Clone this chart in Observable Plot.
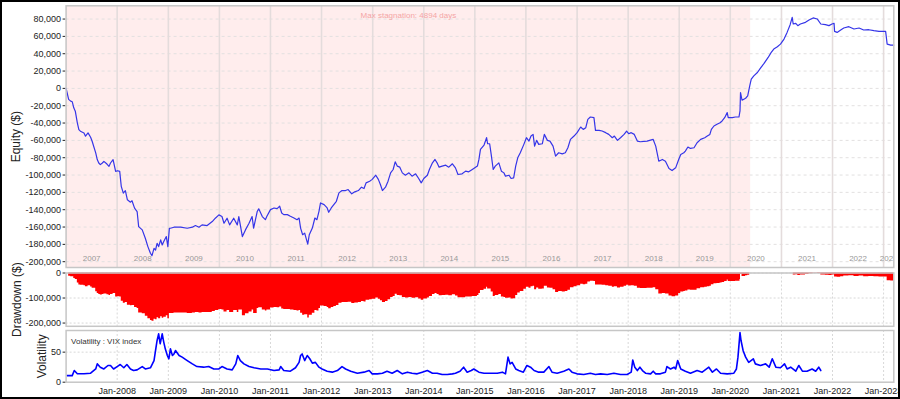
<!DOCTYPE html>
<html><head><meta charset="utf-8">
<script src="https://cdn.jsdelivr.net/npm/d3@7"></script>
<script src="https://cdn.jsdelivr.net/npm/@observablehq/plot@0.6"></script>
<style>
html,body{margin:0;padding:0;background:#fff;}
#chart{position:relative;width:900px;height:399px;overflow:hidden;background:#fff;}
#chart svg{position:absolute;left:0;top:0;}
#border{position:absolute;left:0;top:0;width:900px;height:399px;box-sizing:border-box;border:2px solid #000;pointer-events:none;z-index:5;}
</style></head><body>
<div id="chart"><div id="border"></div></div>
<script>
// ---------- data ----------
const equityYears = [2007.00,2007.05,2007.09,2007.12,2007.15,2007.18,2007.22,2007.25,2007.28,2007.35,2007.38,2007.43,2007.48,2007.51,2007.58,2007.61,2007.64,2007.67,2007.71,2007.74,2007.80,2007.84,2007.87,2007.92,2007.97,
2008.01,2008.05,2008.08,2008.12,2008.16,2008.20,2008.26,2008.29,2008.34,2008.39,2008.42,2008.49,2008.55,2008.60,2008.65,2008.68,2008.72,2008.75,2008.78,2008.81,2008.85,2008.88,2008.91,2008.96,2008.99,
2009.02,2009.04,2009.11,2009.24,2009.37,2009.47,2009.53,2009.60,2009.66,2009.76,2009.86,2009.92,2009.99,
2010.05,2010.09,2010.15,2010.20,2010.28,2010.35,2010.38,2010.45,2010.51,2010.58,2010.64,2010.67,2010.74,2010.77,2010.84,2010.90,2010.93,
2011.00,2011.07,2011.13,2011.18,2011.22,2011.26,2011.33,2011.39,2011.46,2011.52,2011.56,2011.59,2011.63,2011.67,2011.73,2011.76,2011.82,2011.87,2011.91,2011.95,2011.98,
2012.05,2012.11,2012.14,2012.19,2012.24,2012.29,2012.34,2012.40,2012.47,2012.52,2012.59,2012.65,2012.72,2012.78,2012.83,2012.87,2012.94,2012.99,
2013.06,2013.11,2013.15,2013.19,2013.25,2013.30,2013.35,2013.40,2013.44,2013.48,2013.53,2013.58,2013.64,2013.71,2013.77,2013.84,2013.90,2013.95,
2014.00,2014.07,2014.11,2014.17,2014.22,2014.26,2014.30,2014.36,2014.43,2014.49,2014.56,2014.62,2014.67,2014.75,2014.82,2014.88,2014.95,
2015.05,2015.08,2015.11,2015.18,2015.23,2015.25,2015.29,2015.32,2015.36,2015.40,2015.47,2015.52,2015.57,2015.60,2015.67,2015.71,2015.76,2015.80,2015.84,2015.89,2015.96,
2016.01,2016.06,2016.10,2016.14,2016.17,2016.21,2016.25,2016.32,2016.36,2016.42,2016.47,2016.53,2016.58,2016.64,2016.71,2016.77,2016.82,2016.87,2016.94,
2017.00,2017.07,2017.12,2017.17,2017.21,2017.26,2017.33,2017.36,2017.43,2017.49,2017.56,2017.62,2017.69,2017.73,2017.79,2017.85,2017.92,2017.97,
2018.01,2018.06,2018.12,2018.18,2018.24,2018.37,2018.49,2018.54,2018.60,2018.67,2018.73,2018.80,2018.86,2018.93,2018.99,
2019.03,2019.09,2019.12,2019.17,2019.22,2019.29,2019.35,2019.42,2019.50,2019.55,2019.60,2019.63,2019.68,2019.74,2019.80,2019.84,2019.89,2019.94,2019.96,
2020.04,2020.10,2020.17,2020.19,2020.20,2020.23,2020.30,2020.34,2020.38,2020.41,2020.46,2020.53,2020.59,2020.66,2020.74,2020.80,2020.85,2020.92,2020.98,
2021.05,2021.11,2021.17,2021.21,2021.23,2021.28,2021.32,2021.37,2021.47,2021.54,2021.62,2021.70,2021.77,2021.86,2021.93,2021.99,
2022.03,2022.04,2022.09,2022.16,2022.22,2022.32,2022.42,2022.52,2022.61,2022.71,2022.81,2022.91,
2023.01,2023.04,2023.07,2023.14,2023.20];
const equityValues = [0,-12700,-14700,-15400,-22400,-26300,-39800,-47500,-49400,-51400,-55200,-51400,-56400,-61000,-74500,-82200,-86100,-88000,-86100,-84200,-87300,-90000,-86100,-82200,-95800,
-95000,-95800,-113000,-120800,-118000,-128600,-131300,-129700,-138200,-142100,-159500,-163300,-173000,-182600,-190300,-193000,-184600,-186500,-178800,-182600,-174900,-180700,-176800,-171000,-182600,
-161400,-161400,-160200,-160200,-161400,-160200,-158300,-160200,-157500,-158300,-153700,-149800,-146000,
-147900,-155600,-149800,-157500,-149800,-157500,-147900,-171000,-163300,-155600,-147900,-161400,-142100,-139000,-147900,-151500,-147600,
-139900,-138000,-138700,-136000,-143800,-145700,-145700,-147600,-149600,-151500,-149600,-161200,-168900,-167000,-179700,-168900,-161200,-149600,-151500,-141900,-132200,
-134100,-138000,-143000,-138000,-134100,-130300,-120600,-117900,-117900,-116700,-121700,-119400,-117900,-114000,-115600,-109000,-107100,-105000,
-100200,-105000,-110900,-117900,-114000,-107100,-97500,-93600,-84700,-89700,-90900,-97500,-100200,-97500,-101300,-98600,-104000,-109000,
-104000,-100200,-93600,-85900,-82000,-85900,-90900,-89700,-88600,-90900,-87000,-91700,-99400,-98600,-95500,-96300,-93600,
-89700,-82000,-70400,-65400,-56900,-63900,-63900,-76200,-93600,-89700,-85900,-95500,-97500,-101300,-100200,-104000,-103300,-89700,-80100,-74300,-64600,
-56900,-60800,-55000,-53100,-66600,-60000,-64600,-63900,-53100,-60000,-60800,-66600,-78200,-74300,-75500,-74300,-68500,-58900,-55000,
-51100,-44600,-47300,-45400,-35700,-33000,-33800,-48400,-48400,-49200,-51100,-53100,-56900,-55000,-60000,-56900,-53100,-49200,
-52300,-51100,-53100,-60800,-61600,-60800,-58900,-66600,-84000,-82000,-84000,-92400,-94800,-91700,-82000,
-76200,-74300,-72400,-67700,-69300,-68500,-62700,-58900,-56900,-55000,-53100,-47300,-43400,-41500,-39600,-37600,-33800,-28000,-33800,
-33800,-33000,-33000,-26000,-4800,-13700,-11400,-8700,2900,10600,14500,18300,23400,28800,35700,41500,45400,48100,51100,
56900,64600,73500,82000,74300,75100,72400,74300,76200,78900,81300,80100,74300,73500,72400,74300,
75100,65800,64600,67400,69700,71200,68500,69700,67400,67700,66600,65800,
65800,65800,51100,50000,50000];

const vixYears = [2007.02,2007.12,2007.16,2007.22,2007.35,2007.48,2007.58,2007.61,2007.67,2007.74,2007.82,2007.87,2007.93,
2008.00,2008.06,2008.13,2008.19,2008.26,2008.32,2008.39,2008.49,2008.55,2008.65,2008.72,2008.75,2008.78,2008.81,2008.84,2008.88,2008.91,2008.94,2008.98,
2009.01,2009.04,2009.08,2009.11,2009.14,2009.21,2009.27,2009.37,2009.47,2009.56,2009.69,2009.79,2009.89,2009.99,
2010.05,2010.15,2010.25,2010.32,2010.36,2010.41,2010.48,2010.58,2010.68,2010.81,2010.94,
2011.07,2011.17,2011.20,2011.26,2011.39,2011.49,2011.56,2011.59,2011.62,2011.67,2011.72,2011.77,2011.82,2011.88,2011.95,
2012.01,2012.11,2012.21,2012.31,2012.40,2012.47,2012.57,2012.70,2012.83,2012.93,2012.99,
2013.09,2013.19,2013.28,2013.38,2013.48,2013.58,2013.68,2013.77,2013.87,2013.97,
2014.07,2014.17,2014.26,2014.36,2014.46,2014.56,2014.62,2014.71,2014.78,2014.85,2014.93,2014.98,
2015.08,2015.18,2015.31,2015.44,2015.54,2015.60,2015.65,2015.69,2015.73,2015.80,2015.86,2015.95,
2016.02,2016.09,2016.16,2016.25,2016.35,2016.45,2016.51,2016.61,2016.74,2016.84,2016.90,
2017.00,2017.13,2017.26,2017.36,2017.46,2017.59,2017.72,2017.85,2017.98,
2018.06,2018.09,2018.13,2018.18,2018.23,2018.28,2018.34,2018.44,2018.49,2018.54,2018.63,2018.73,2018.76,2018.83,2018.90,2018.93,2018.97,
2019.03,2019.12,2019.22,2019.35,2019.45,2019.58,2019.65,2019.73,2019.81,2019.94,
2020.07,2020.12,2020.15,2020.19,2020.21,2020.25,2020.30,2020.36,2020.45,2020.49,2020.59,2020.69,2020.76,2020.82,2020.89,2020.98,
2021.06,2021.11,2021.18,2021.28,2021.34,2021.41,2021.50,2021.60,2021.67,2021.73,2021.77];
const vixValues = [11,11,19.4,14,14,15,22,30.5,25,22,27.8,27.8,22,
26,29.4,24,29.4,22,19.4,20.5,26,22,24,36,52.8,69.4,80.5,64,80.5,66.7,55.5,44.4,
38.9,55.5,44.4,47,52.8,44.4,41.7,36,30.5,26,25,26,22,22,
26,22,20.5,30.5,44.4,36,30.5,26,24,22,22,
19.4,20.5,26,19.4,18.3,24,33,44.4,47,36,44.4,39,31.7,33,25,
22,18.3,16.7,19.4,26,22,18.3,15,16.7,19.4,13.9,
13.9,15,18.3,15,19.4,13.9,16.7,15,13.9,16.7,
19.4,15,15,12.8,12.8,13.9,15,18.3,25,16.7,19.4,22,
16.7,15,15,15,16.7,13.9,41.7,30.5,33,22,19.4,16.7,
27.8,25,19.4,16.7,16.7,26,16.7,15,18.3,22,16.7,
13.9,12.8,15,12.8,13.9,12.8,15,12.8,12.8,
16.7,37,25,19.4,25,19.4,15,13.9,18.3,13.9,13.9,16.7,26,22,25,22,36,
22,18.3,15,19.4,16.7,25,16.7,22,15,13.9,
15,22,41.7,82.5,69.4,52.8,41.7,33,39,30.5,27.8,30.5,25,39,25,24,
30.5,22,25,18.3,27.8,18.3,18.3,22,18.3,25,19.4];

const equityTicks = [80000,60000,40000,20000,0,-20000,-40000,-60000,-80000,-100000,-120000,-140000,-160000,-180000,-200000];
const drawdownTicks = [0,-100000,-200000];
const volatilityTicks = [0,50];
const axisYears = [2008,2009,2010,2011,2012,2013,2014,2015,2016,2017,2018,2019,2020,2021,2022,2023];
const panelYears = [2007,2008,2009,2010,2011,2012,2013,2014,2015,2016,2017,2018,2019,2020,2021,2022,2023];
const stagnationStart = "2007-01-01";
const stagnationDays = 4894;
const equityTitle = "Equity ($)";
const drawdownTitle = "Drawdown ($)";
const volatilityTitle = "Volatility";
const volatilityNote = "Volatility : VIX index";
const xStart = "2007-01-01", xEnd = "2023-03-15";

// ---------- helpers ----------
const yearToDate = y => { const yr = Math.floor(y); const a = Date.UTC(yr,0,1), b = Date.UTC(yr+1,0,1); return new Date(a + (y-yr)*(b-a)); };
const fmt = d3.formatLocale({decimal:".", thousands:",", grouping:[3], currency:["$",""], minus:"-"}).format(",");
const xDomain = [new Date(xStart+"T00:00:00Z"), new Date(xEnd+"T00:00:00Z")];
const jan = y => new Date(Date.UTC(y,0,1));
const janDates = axisYears.map(jan);

const eq = equityYears.map((t,i)=>({date: yearToDate(t), value: equityValues[i]}));
let peak = 0;
eq.forEach(d => { peak = Math.max(peak, d.value); d.dd = d.value - peak; });
const vix = vixYears.map((t,i)=>({date: yearToDate(t), value: vixValues[i]}));

const sStart = new Date(stagnationStart+"T00:00:00Z");
const sEnd = new Date(+sStart + stagnationDays*864e5);
const stag = [{start: sStart, end: sEnd, mid: new Date((+sStart + +sEnd)/2), label: `Max stagnation: ${stagnationDays} days`}];

const yearLabels = panelYears.map(y => {
  const s = Math.max(+jan(y), +xDomain[0]), e = Math.min(+jan(y+1), +xDomain[1]);
  return {mid: new Date((s+e)/2), label: String(y)};
});

const W = 900, H = 399, ML = 65.6, MR = 6.7;
const font = "'Liberation Sans', Arial, sans-serif";
const style = {background: "transparent", fontFamily: font, fontSize: "9px", color: "#222", overflow: "visible"};
const frameStroke = "#c6c6c6";
const chart = document.getElementById("chart");

// ---------- equity ----------
const equityPlot = Plot.plot({
  width: W, height: H, marginLeft: ML, marginRight: MR, marginTop: 5.3, marginBottom: H - 267,
  style,
  x: {type: "utc", domain: xDomain, axis: null},
  y: {domain: [-206700, 95300], ticks: equityTicks, tickFormat: fmt, tickSize: 3, tickPadding: 2, label: null},
  marks: [
    Plot.rect(stag, {x1: "start", x2: "end", fill: "#ffeded"}),
    Plot.ruleY(equityTicks, {stroke: "#e2e0e0", strokeDasharray: "3,3"}),
    Plot.ruleX(janDates, {stroke: "#e4dcdc", strokeWidth: 1.6}),
    Plot.text(yearLabels, {x: "mid", text: "label", frameAnchor: "bottom", dy: -7, fill: "#999", fontSize: 8, clip: true}),
    Plot.text(stag, {x: "mid", text: "label", frameAnchor: "top", dy: 7, fill: "#f4a5a5", fontSize: 8}),
    Plot.line(eq, {x: "date", y: "value", stroke: "#3535e8", strokeWidth: 1.2}),
    Plot.text([equityTitle], {text: d => d, frameAnchor: "left", textAnchor: "middle", dx: -49.6, rotate: -90, fontSize: 12, fill: "#222"}),
    Plot.frame({stroke: frameStroke, strokeWidth: 1.5})
  ]
});

// ---------- drawdown ----------
const drawdownPlot = Plot.plot({
  width: W, height: H, marginLeft: ML, marginRight: MR, marginTop: 272.5, marginBottom: H - 325.8,
  style,
  x: {type: "utc", domain: xDomain, axis: null},
  y: {domain: [-213000, 0], ticks: drawdownTicks, tickFormat: fmt, tickSize: 3, tickPadding: 2, label: null},
  marks: [
    Plot.ruleY(drawdownTicks, {stroke: "#d8d8d8", strokeDasharray: "2,2"}),
    Plot.ruleX(janDates, {stroke: "#d8d8d8", strokeDasharray: "2,2"}),
    Plot.areaY(eq, {x: "date", y: "dd", fill: "#ff0000", curve: "step-after"}),
    Plot.text([drawdownTitle], {text: d => d, frameAnchor: "left", textAnchor: "middle", dx: -48.6, rotate: -90, fontSize: 12, fill: "#222"}),
    Plot.frame({stroke: frameStroke, strokeWidth: 1.5})
  ]
});

// ---------- volatility ----------
const volPlot = Plot.plot({
  width: W, height: H, marginLeft: ML, marginRight: MR, marginTop: 330, marginBottom: H - 381.7,
  style,
  x: {type: "utc", domain: xDomain, ticks: janDates, tickFormat: d3.utcFormat("%b-%Y"), tickSize: 0, tickPadding: 5, label: null},
  y: {domain: [0, 86], ticks: volatilityTicks, tickFormat: d3.format("d"), tickSize: 3, tickPadding: 2, label: null},
  marks: [
    Plot.ruleY([50], {stroke: "#d8d8d8", strokeDasharray: "2,2"}),
    Plot.ruleX(janDates, {stroke: "#d8d8d8", strokeDasharray: "2,2"}),
    Plot.line(vix, {x: "date", y: "value", stroke: "#0000ff", strokeWidth: 1.6}),
    Plot.text([volatilityNote], {text: d => d, frameAnchor: "top-left", dx: 5, dy: 8, textAnchor: "start", fontSize: 8, fill: "#333"}),
    Plot.text([volatilityTitle], {text: d => d, frameAnchor: "left", textAnchor: "middle", dx: -23.6, rotate: -90, fontSize: 12, fill: "#222"}),
    Plot.frame({stroke: frameStroke, strokeWidth: 1.5})
  ]
});

chart.insertBefore(volPlot, chart.firstChild);
chart.insertBefore(drawdownPlot, chart.firstChild);
chart.insertBefore(equityPlot, chart.firstChild);
</script>
</body></html>
